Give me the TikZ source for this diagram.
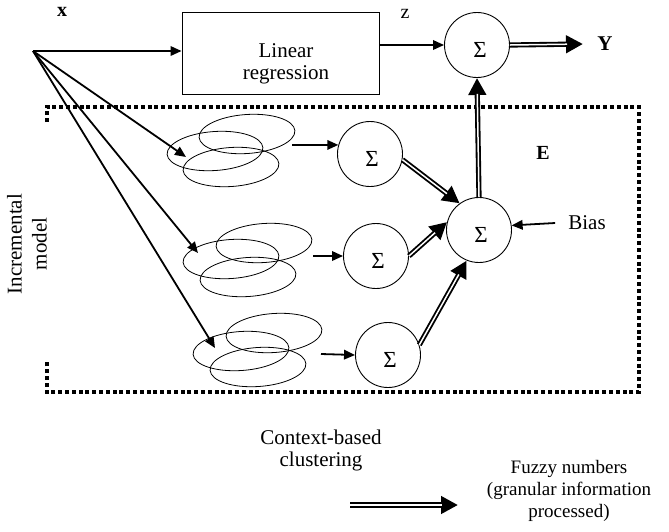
\documentclass[tikz,border=0pt]{standalone}
\usepackage{fontspec}
\setmainfont{Liberation Serif}
\usetikzlibrary{arrows.meta}
\begin{document}
\begin{tikzpicture}[x=1pt,y=-1pt,
  every node/.style={inner sep=0pt},
  txt/.style={font=\fontsize{21}{22}\selectfont, align=center},
  legtxt/.style={font=\fontsize{19}{22}\selectfont, align=center},
  sumc/.style={draw, circle, line width=0.9pt, minimum size=65pt},
  sig/.style={font=\fontsize{23}{23}\selectfont},
  arr/.style={line width=1.8pt, -{Triangle[length=11pt,width=9.5pt]}},
  % double-lined connector: a thick black stroke with a white core and a solid tip
  darr/.style={line width=5.2pt, -{Triangle[length=17pt,width=17pt]},
    postaction={draw=white, line width=1.5pt, -, shorten >=16pt, shorten <=-0.1pt}},
  clus/.style={line width=0.8pt},
  frame/.style={line width=3.5pt, dash pattern=on 4pt off 2.8pt},
]
\useasboundingbox (0,0) rectangle (669,531);

% incremental model frame (dotted, open on the left)
\coordinate (fa) at (47,122);
\coordinate (fb) at (47,107);
\coordinate (fc) at (639,107);
\coordinate (fd) at (639,392);
\coordinate (fe) at (47,392);
\coordinate (ff) at (47,362);
\draw[frame] (fa) -- (fb) -- (fc) -- (fd) -- (fe) -- (ff);

% input
\coordinate (src) at (33,51);
\node[font=\bfseries\fontsize{20}{20}\selectfont] (xlbl) at (62,12) {x};

% linear regression branch
\node[draw, line width=0.9pt, minimum width=197pt, minimum height=82pt] (lr) at (280.5,53) {};
\node[txt] (lrtext) at (286,64) {Linear\\regression};
\node[sumc] (sT) at (477,45) {};
\node[sig] (sTt) at ([xshift=3pt,yshift=-5pt]sT.center) {Σ};
\node[font=\fontsize{20}{20}\selectfont] (zlbl) at (405,14) {z};
\coordinate (yend) at (583,44);
\node[font=\bfseries\fontsize{21}{21}\selectfont] (ylbl) at (605,44) {Y};

\draw[arr] (src) -- (src -| lr.west);
\draw[arr] (lr.east |- sT) -- (sT.west);
\draw[darr] (sT.east) -- (yend);

% fuzzy clusters (context-based clustering)
\foreach \a/\b/\c [count=\i] in {
    {247,134}/{215,151}/{231,167},
    {264,243}/{231,259}/{248,277},
    {274,333}/{241,351}/{258,367}} {
  \draw[clus, rotate around={4:(\a)}] (\a) ellipse [x radius=48, y radius=19.5];
  \draw[clus, rotate around={4:(\b)}] (\b) ellipse [x radius=48, y radius=19.5];
  \draw[clus, rotate around={4:(\c)}] (\c) ellipse [x radius=48, y radius=19.5];
}
\coordinate (g1in) at (186,157);
\coordinate (g2in) at (198,253);
\coordinate (g3in) at (215,348);
\coordinate (g1out) at (292,145);
\coordinate (g2out) at (313,256);
\coordinate (g3out) at (321,354);

\draw[arr] (src) -- (g1in);
\draw[arr] (src) -- (g2in);
\draw[arr] (src) -- (g3in);

% local summation nodes
\node[sumc] (s1) at (370,154) {};
\node[sig] (s1t) at ([xshift=2pt,yshift=-5pt]s1.center) {Σ};
\node[sumc] (s2) at (376,256) {};
\node[sig] (s2t) at ([xshift=2pt,yshift=-5pt]s2.center) {Σ};
\node[sumc] (s3) at (388,355) {};
\node[sig] (s3t) at ([xshift=2pt,yshift=-5pt]s3.center) {Σ};
\node[sumc] (sC) at (479,230) {};
\node[sig] (sCt) at ([xshift=2pt,yshift=-5pt]sC.center) {Σ};

\draw[arr] (g1out) -- (s1.164);
\draw[arr] (g2out) -- (s2.west);
\draw[arr] (g3out) -- (s3.west);

\draw[darr] (s1.-10) -- (sC.126);
\draw[darr] (s2.east) -- (sC.166);
\draw[darr] (s3.18) -- (sC.248);
\draw[darr] (sC.north) -- (sT.south);

\node[txt] (bias) at (587,223) {Bias};
\draw[arr] ([xshift=-13pt]bias.west) -- (sC.8);
\node[font=\bfseries\fontsize{20}{20}\selectfont] (elbl) at (543,153) {E};

% side and bottom captions
\node[txt, rotate=90, font=\fontsize{21}{25}\selectfont] (incr) at (27,244) {Incremental\\model};
\node[txt] (ctx) at (321,450) {Context-based\\clustering};

% legend
\coordinate (legA) at (350,505);
\coordinate (legB) at (458,505);
\draw[darr] (legA) -- (legB);
\node[legtxt] (legtext) at (569,491) {Fuzzy numbers\\(granular information\\processed)};
\end{tikzpicture}
\end{document}
